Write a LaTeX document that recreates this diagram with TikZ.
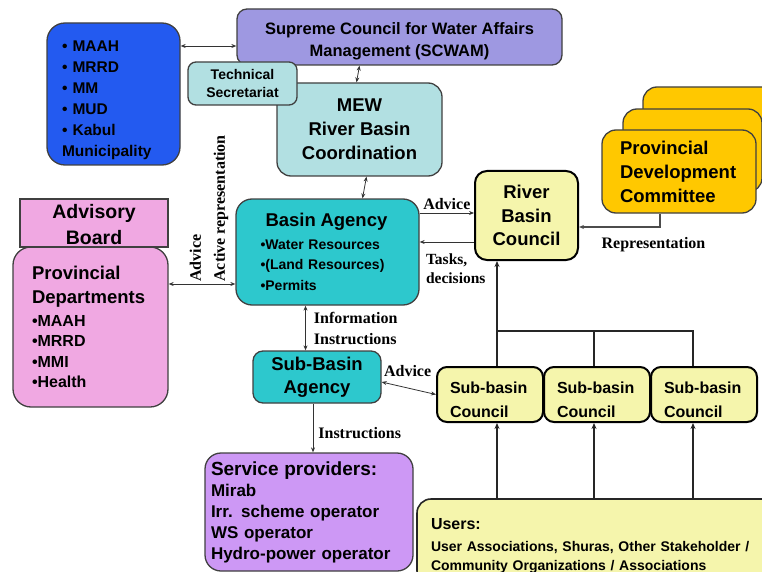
\documentclass[tikz,border=0pt]{standalone}
\usepackage{fontspec}
\setmainfont{Liberation Serif}
\newfontfamily\boxfont{Liberation Sans}
\usetikzlibrary{arrows.meta}

\definecolor{minblue}{RGB}{35,90,240}
\definecolor{supviolet}{RGB}{158,152,225}
\definecolor{paleteal}{RGB}{178,224,226}
\definecolor{turq}{RGB}{45,200,205}
\definecolor{pinkbox}{RGB}{240,168,226}
\definecolor{paleyellow}{RGB}{245,245,172}
\definecolor{gold}{RGB}{255,200,0}
\definecolor{lilac}{RGB}{205,152,245}

\newcommand\fsz[2]{\fontsize{#1}{#2}\selectfont}
\newcommand\lift[1]{\rule{0pt}{#1}}

\tikzset{
  box/.style={draw=black!75, line width=1.3pt, rounded corners=12pt, inner sep=0pt, font=\boxfont\bfseries},
  council/.style={box, draw=black, line width=2pt, fill=paleyellow},
  lbl/.style={inner sep=0pt, font=\bfseries\fsz{16}{20}},
  one/.style={-{Stealth[length=5pt,width=4pt]}, line width=0.8pt, draw=black!80},
  duo/.style={{Stealth[length=5pt,width=4pt]}-{Stealth[length=5pt,width=4pt]}, line width=0.8pt, draw=black!80},
  bus/.style={line width=2pt, draw=black!85},
}

\begin{document}
\begin{tikzpicture}[x=1pt, y=-1pt]
        \useasboundingbox (0,0) rectangle (762,572);

        \node[box, fill=minblue, rounded corners=18pt, minimum width=133pt, minimum height=142pt, text width=103pt, align=left, font=\boxfont\bfseries\fsz{15.5}{21}] (mins) at (113.5,94)
          {\lift{23pt}\textbullet{} MAAH\\\textbullet{} MRRD\\\textbullet{} MM\\\textbullet{} MUD\\\textbullet{} Kabul\\Municipality};
        \node[box, fill=supviolet, rounded corners=10pt, minimum width=325pt, minimum height=56pt, align=center, font=\boxfont\bfseries\fsz{16.5}{22}] (supreme) at (399.5,37)
          {\lift{20pt}Supreme Council for Water Affairs\\Management (SCWAM)};
        \node[box, fill=paleteal, rounded corners=14pt, minimum width=165pt, minimum height=93pt, align=center, font=\boxfont\bfseries\fsz{18.5}{24}] (mew) at (359.5,129.5)
          {MEW\\River Basin\\Coordination};
        \node[box, fill=paleteal, rounded corners=8pt, minimum width=109pt, minimum height=43pt, align=center, font=\boxfont\bfseries\fsz{14}{18.5}] (techsec) at (242.5,83.5)
          {Technical\\Secretariat};

        \node[box, fill=turq, rounded corners=16pt, minimum width=183pt, minimum height=106pt, text width=134pt, align=left, font=\boxfont\bfseries\fsz{14}{20.5}] (ba) at (327.5,252)
          {\hspace*{5pt}{\fsz{18.5}{22}Basin Agency}\\[2pt]\textbullet Water Resources\\\textbullet(Land Resources)\\\textbullet Permits};

        \node[box, fill=pinkbox, rounded corners=18pt, minimum width=155pt, minimum height=160pt, text width=117pt, align=left, font=\boxfont\bfseries\fsz{16}{20.5}] (pd) at (90.5,327)
          {{\fsz{18.5}{24}Provincial}\\[3.5pt]{\fsz{18.5}{24}Departments}\\[2.5pt]\textbullet MAAH\\\textbullet MRRD\\\textbullet MMI\\\textbullet Health};
        \node[box, fill=pinkbox, sharp corners, minimum width=148pt, minimum height=48pt, align=center, font=\boxfont\bfseries\fsz{19.5}{26}] (ab) at (94,223)
          {\lift{18pt}Advisory\\Board};

        \node[box, fill=gold, rounded corners=14pt, minimum width=147pt, minimum height=83pt] (pdcback) at (716.5,128.5) {};
        \node[box, fill=gold, rounded corners=14pt, minimum width=139pt, minimum height=83pt] (pdcmid) at (692.5,150.5) {};
        \node[box, fill=gold, rounded corners=14pt, minimum width=154pt, minimum height=83pt, text width=118pt, align=left, font=\boxfont\bfseries\fsz{18.5}{24}] (pdc) at (679,171.5)
          {Provincial\\Development\\Committee};

        \node[council, minimum width=103pt, minimum height=89pt, align=center, font=\boxfont\bfseries\fsz{18.5}{23.5}] (rbc) at (526.5,215.5)
          {River\\Basin\\Council};

        \node[box, fill=turq, rounded corners=10pt, minimum width=128pt, minimum height=52pt, align=center, font=\boxfont\bfseries\fsz{18.5}{23}] (sba) at (317,377)
          {Sub-Basin\\Agency};

        \node[council, rounded corners=10pt, minimum width=106pt, minimum height=55pt, text width=80pt, align=left, font=\boxfont\bfseries\fsz{16}{24}] (sbc1) at (490,394.5) {\lift{21.5pt}Sub-basin\\Council};
        \node[council, rounded corners=10pt, minimum width=106pt, minimum height=55pt, text width=80pt, align=left, font=\boxfont\bfseries\fsz{16}{24}] (sbc2) at (597,394.5) {\lift{21.5pt}Sub-basin\\Council};
        \node[council, rounded corners=10pt, minimum width=106pt, minimum height=55pt, text width=80pt, align=left, font=\boxfont\bfseries\fsz{16}{24}] (sbc3) at (704,394.5) {\lift{21.5pt}Sub-basin\\Council};

        \node[box, fill=lilac, rounded corners=16pt, minimum width=208pt, minimum height=118pt, text width=196pt, align=left, font=\boxfont\bfseries\fsz{17}{21}] (sp) at (309,512)
          {{\fsz{19}{21}Service providers:}\\Mirab\\Irr. scheme operator\\WS operator\\Hydro-power operator};
        \node[box, fill=paleyellow, draw=black!85, line width=1.6pt, rounded corners=14pt, minimum width=373pt, minimum height=86pt, text width=345pt, align=left, font=\boxfont\bfseries\fsz{14}{19}] (users) at (603.5,542)
          {\lift{18pt}{\fsz{16}{19}Users:}\\[3pt]User Associations, Shuras, Other Stakeholder /\\Community Organizations / Associations};

        \draw[duo] ([yshift=-9pt]mins.east |- supreme.west) -- ([yshift=-9pt]supreme.west);
        \draw[duo] ([xshift=-40pt]supreme.south) -- ([xshift=-3pt]mew.north);
        \draw[duo] ([xshift=7pt]mew.south) -- ([xshift=35pt]ba.north);

        \draw[one] ([yshift=39pt]ba.east) -- ([yshift=39pt]ba.east -| rbc.west)
          node[lbl, midway, above=3pt] {Advice};
        \draw[one] ([yshift=10pt]ba.east -| rbc.west) -- ([yshift=10pt]ba.east)
          node[lbl, pos=1, anchor=north west, align=left, xshift=6pt, yshift=-11pt, font=\bfseries\fsz{15.5}{19}] {Tasks,\\decisions};
        \draw[one, line width=1.2pt, draw=black!70] ([xshift=-19pt]pdc.south) |- ([yshift=-11.5pt]rbc.east)
          node[lbl, pos=0.54, below=10pt] {Representation};

        \draw[duo] ([yshift=-32pt]pd.east |- ba.west) -- ([yshift=-32pt]ba.west)
          node[lbl, pos=0.9, yshift=2pt, rotate=90, anchor=south west, align=left, font=\bfseries\fsz{16}{24}] {Advice\\Active representation};

        \draw[duo] ([xshift=-22pt]ba.south) -- ([xshift=-22pt]ba.south |- sba.north)
          node[lbl, midway, right=8pt, align=left, font=\bfseries\fsz{16}{21}] {Information\\Instructions};
        \draw[one] ([xshift=-4pt]sba.south) -- ([xshift=-4pt]sba.south |- sp.north)
          node[lbl, midway, right=5pt, yshift=-5pt] {Instructions};
        \draw[duo] ([yshift=-5pt]sba.east) -- (sbc1.west)
          node[lbl, pos=0, anchor=south west, xshift=2pt, yshift=5pt] {Advice};

        \draw[bus] ([xshift=7pt]sbc1.north) -- ([xshift=7pt,yshift=35pt]sbc1.north) coordinate (hub) -| ([xshift=-11pt]sbc3.north);
        \draw[bus] ([xshift=-3pt]sbc2.north) -- ([xshift=-3pt]sbc2.north |- hub);
        \draw[bus, -{Stealth[length=6pt,width=5pt]}] (hub) -- (hub |- rbc.south);

        \draw[bus, -{Stealth[length=6pt,width=5pt]}] ([xshift=7pt]sbc1.south |- users.north) -- ([xshift=7pt]sbc1.south);
        \draw[bus, -{Stealth[length=6pt,width=5pt]}] ([xshift=-3pt]sbc2.south |- users.north) -- ([xshift=-3pt]sbc2.south);
        \draw[bus, -{Stealth[length=6pt,width=5pt]}] ([xshift=-11pt]sbc3.south |- users.north) -- ([xshift=-11pt]sbc3.south);
\end{tikzpicture}
\end{document}
